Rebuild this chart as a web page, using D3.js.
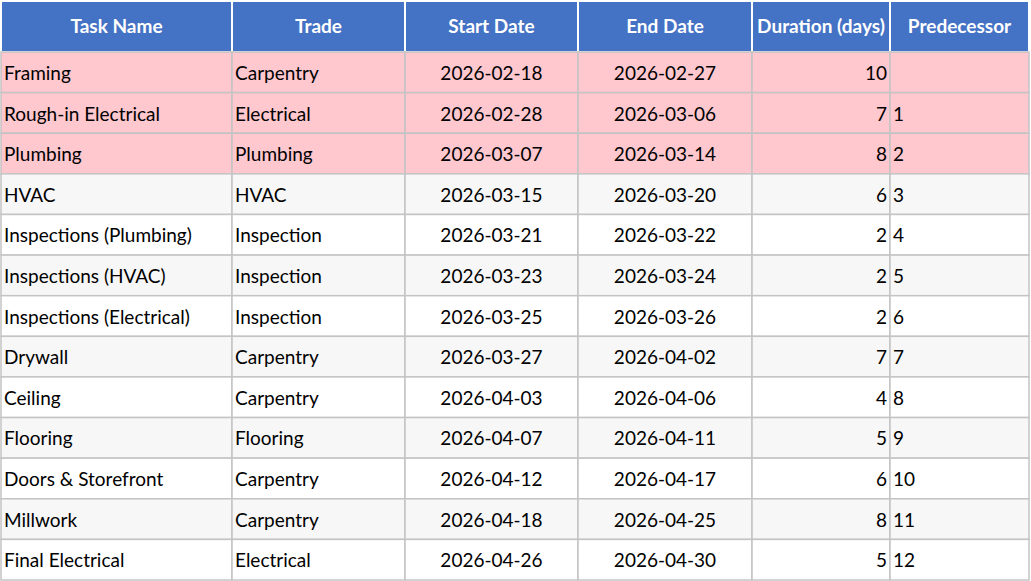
<!DOCTYPE html><html><head><meta charset="utf-8">
<script src="https://cdn.jsdelivr.net/npm/d3@7"></script>
<style>body{margin:0;background:#fff}</style></head><body><svg id="c" width="1031" height="581"></svg>
<script>
const headers=["Task Name","Trade","Start Date","End Date","Duration (days)","Predecessor"];
const tasks=["Framing","Rough-in Electrical","Plumbing","HVAC","Inspections (Plumbing)","Inspections (HVAC)","Inspections (Electrical)","Drywall","Ceiling","Flooring","Doors & Storefront","Millwork","Final Electrical"];
const trades=["Carpentry","Electrical","Plumbing","HVAC","Inspection","Inspection","Inspection","Carpentry","Carpentry","Flooring","Carpentry","Carpentry","Electrical"];
const starts=["2026-02-18","2026-02-28","2026-03-07","2026-03-15","2026-03-21","2026-03-23","2026-03-25","2026-03-27","2026-04-03","2026-04-07","2026-04-12","2026-04-18","2026-04-26"];
const ends=["2026-02-27","2026-03-06","2026-03-14","2026-03-20","2026-03-22","2026-03-24","2026-03-26","2026-04-02","2026-04-06","2026-04-11","2026-04-17","2026-04-25","2026-04-30"];
const durations=[10,7,8,6,2,2,2,7,4,5,6,8,5];
const preds=["","1","2","3","4","5","6","7","8","9","10","11","12"];
const highlighted=[true,true,true,false,false,false,false,false,false,false,false,false,false];

const colX=[1,232,405,578,752,890,1029];
const aligns=["start","start","middle","middle","end","start"];
const svg=d3.select("#c");
const font="Lato, 'Open Sans', sans-serif";
const headH=51, topY=1;
const y=d3.scaleBand().domain(d3.range(tasks.length)).range([topY+headH,580]).padding(0);
const defs=svg.append("defs");
colX.slice(0,-1).forEach((x,i)=>defs.append("clipPath").attr("id","cl"+i).append("rect").attr("x",x).attr("y",0).attr("width",colX[i+1]-x).attr("height",581));
headers.forEach((h,i)=>{
  svg.append("rect").attr("x",colX[i]).attr("y",topY).attr("width",colX[i+1]-colX[i]).attr("height",headH).attr("fill","#4472c4").attr("stroke","#fff").attr("stroke-width",2);
  svg.append("text").attr("clip-path","url(#cl"+i+")").attr("x",(colX[i]+colX[i+1])/2).attr("y",topY+headH/2).attr("dy","0.35em").attr("text-anchor","middle").attr("fill","#fff").attr("font-family",font).attr("font-weight","bold").attr("font-size",19).text(h);
});
const rows=tasks.map((t,i)=>[t,trades[i],starts[i],ends[i],String(durations[i]),preds[i]]);
rows.forEach((r,ri)=>{
  const fill=highlighted[ri]?"#ffc7ce":(ri%2===1?"#f7f7f7":"#ffffff");
  r.forEach((v,i)=>{
    svg.append("rect").attr("x",colX[i]).attr("y",y(ri)).attr("width",colX[i+1]-colX[i]).attr("height",y.bandwidth()).attr("fill",fill).attr("stroke","#c4c4c4").attr("stroke-width",1.5);
    const a=aligns[i];
    const tx=a==="start"?colX[i]+3:a==="end"?colX[i+1]-3:(colX[i]+colX[i+1])/2;
    svg.append("text").attr("clip-path","url(#cl"+i+")").attr("x",tx).attr("y",y(ri)+y.bandwidth()/2+1).attr("dy","0.35em").attr("text-anchor",a).attr("fill","#000").attr("font-family",font).attr("font-size",19).text(v);
  });
});
</script></body></html>
